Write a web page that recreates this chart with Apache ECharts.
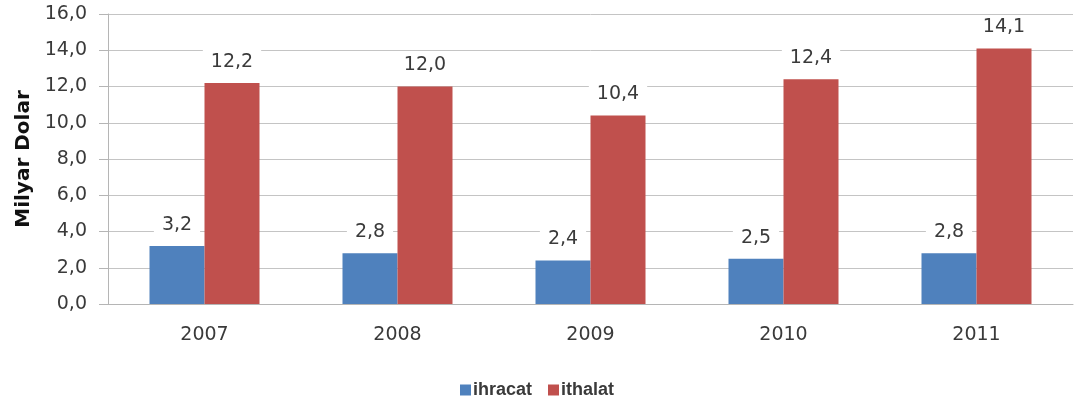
<!DOCTYPE html>
<html>
<head>
<meta charset="utf-8">
<script src="https://cdn.jsdelivr.net/npm/echarts@6/dist/echarts.min.js"></script>
<style>html,body{margin:0;padding:0;background:#fff;}#c{width:1074px;height:403px;}</style>
</head>
<body>
<div id="c"></div>
<script>
const years = ['2007', '2008', '2009', '2010', '2011'];
const ihracat = [3.2, 2.8, 2.4, 2.5, 2.8];
const ithalat = [12.2, 12.0, 10.4, 12.4, 14.1];
const seriesNames = ['ihracat', 'ithalat'];
const yAxisTitle = 'Milyar Dolar';

const fmt = v => v.toFixed(1).replace('.', ',');
const labelStyle = {
  show: true, position: 'top', distance: 9,
  fontFamily: 'DejaVu Sans', fontSize: 19, color: '#3a3a3a',
  backgroundColor: '#ffffff', padding: [2, 8], lineHeight: 20,
  formatter: p => fmt(p.value)
};
const chart = echarts.init(document.getElementById('c'));
chart.setOption({
  animation: false,
  backgroundColor: '#ffffff',
  grid: { left: 108, right: 1, top: 14, bottom: 99, containLabel: false },
  legend: {
    data: seriesNames, left: 'center', top: 376, itemWidth: 11, itemHeight: 11,
    itemGap: 16, icon: 'rect',
    textStyle: { fontFamily: 'Liberation Sans', fontWeight: 'bold', fontSize: 18, color: '#3a3a3a', padding: [0, 0, 0, -3] }
  },
  xAxis: {
    type: 'category', data: years,
    axisLine: { lineStyle: { color: '#b5b5b5', width: 1 } },
    axisTick: { show: false },
    axisLabel: { fontFamily: 'DejaVu Sans', fontSize: 19, color: '#3a3a3a', margin: 22 }
  },
  yAxis: {
    type: 'value', min: 0, max: 16, interval: 2,
    name: yAxisTitle, nameLocation: 'middle', nameGap: 74, nameRotate: 90,
    nameTextStyle: { fontFamily: 'DejaVu Sans', fontWeight: 'bold', fontSize: 20, color: '#111' },
    axisLine: { show: true, lineStyle: { color: '#b5b5b5' } },
    axisTick: { show: true, length: 9, inside: false, lineStyle: { color: '#b5b5b5' } },
    splitLine: { lineStyle: { color: '#c4c4c4' } },
    axisLabel: { fontFamily: 'DejaVu Sans', fontSize: 19, color: '#3a3a3a', margin: 21, formatter: v => fmt(v) }
  },
  series: [
    { name: seriesNames[0], type: 'bar', data: ihracat, barWidth: '28.5%', barGap: '0%',
      itemStyle: { color: '#4F81BD' }, label: labelStyle },
    { name: seriesNames[1], type: 'bar', data: ithalat, barWidth: '28.5%', barGap: '0%',
      itemStyle: { color: '#C0504D' }, label: labelStyle }
  ]
});
</script>
</body>
</html>
